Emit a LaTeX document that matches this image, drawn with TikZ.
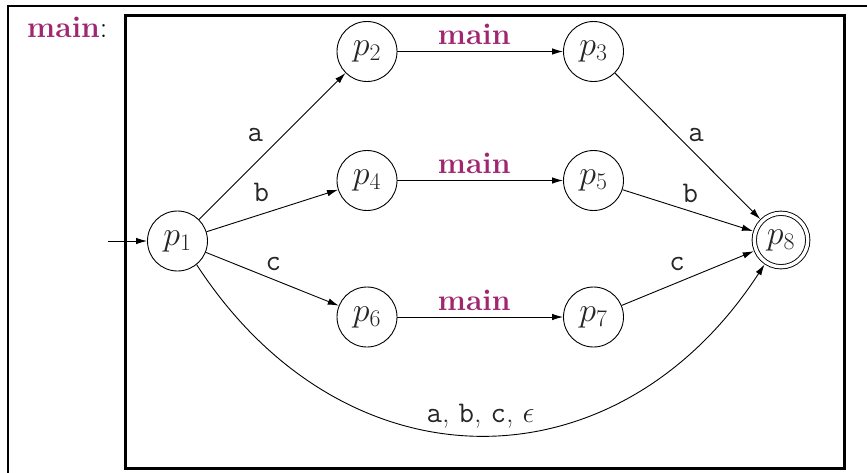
\RequirePackage{fix-cm}
\documentclass[tikz,border=0pt]{standalone}
\usetikzlibrary{arrows.meta}
\definecolor{mainpurple}{RGB}{160,38,112}
\begin{document}
\begin{tikzpicture}[x=1pt,y=-1pt,
  state/.style={circle,draw,line width=0.9pt,minimum size=60pt,inner sep=0pt,
    font=\fontsize{34}{40}\selectfont,text=black!85},
  acc/.style={state,double,double distance=3.4pt,minimum size=53.5pt,outer sep=2.7pt},
  arr/.style={-{Latex[length=11pt,width=6.5pt]},line width=0.9pt},
  lab/.style={font=\fontsize{30}{36}\selectfont\ttfamily,inner sep=0pt,text=black!85},
  labr/.style={font=\fontsize{30}{36}\selectfont,inner sep=0pt,text=black!85},
  mainlab/.style={font=\fontsize{30}{36}\selectfont\bfseries,text=mainpurple,inner sep=0pt,anchor=base}]
\useasboundingbox (0,0) rectangle (867,472);
\clip (0,0) rectangle (867,472);
\draw[line width=2.2pt] (8,6) rectangle (900,520);
\draw[line width=3pt] (125.5,15) rectangle (844.5,468.5);

\node[anchor=base west,inner sep=0pt,font=\fontsize{30}{36}\selectfont] (title) at (27,37)
  {\textbf{\color{mainpurple}main}:};

\node[state] (p1) at (177.5,241) {$p_1$};
\node[state] (p2) at (367,51.5) {$p_2$};
\node[state] (p3) at (593.5,51.5) {$p_3$};
\node[state] (p4) at (367,180.5) {$p_4$};
\node[state] (p5) at (593.5,180.5) {$p_5$};
\node[state] (p6) at (367,317) {$p_6$};
\node[state] (p7) at (593.5,317) {$p_7$};
\node[acc] (p8) at (781,240) {$p_8$};

\coordinate (start) at (108,241);
\draw[arr] (start) -- (p1);

\draw[arr] (p1) -- node[lab,midway,xshift=-17pt,yshift=11pt] {a} (p2);
\draw[arr] (p1) -- node[lab,midway,xshift=-11pt,yshift=18pt] {b} (p4);
\draw[arr] (p1) -- node[lab,midway,xshift=1pt,yshift=15pt] {c} (p6);

\draw[arr] (p2) -- node[mainlab,midway,xshift=-6pt,yshift=7pt] {main} (p3);
\draw[arr] (p4) -- node[mainlab,midway,xshift=-6pt,yshift=7pt] {main} (p5);
\draw[arr] (p6) -- node[mainlab,midway,xshift=-6pt,yshift=7pt] {main} (p7);

\draw[arr] (p3) -- node[lab,midway,xshift=8.5pt,yshift=11pt] {a} (p8);
\draw[arr] (p5) -- node[lab,midway,xshift=2.5pt,yshift=17pt] {b} (p8);
\draw[arr] (p7) -- node[lab,midway,xshift=-10.5pt,yshift=14pt] {c} (p8);

\draw[arr] (p1.-51) .. controls +(147.8,227.6) and +(-147.8,227.6) .. node[labr,pos=0.5,anchor=base,yshift=12.5pt]
  {\texttt{a}, \texttt{b}, \texttt{c}, $\epsilon$} (p8.-124);
\end{tikzpicture}
\end{document}
